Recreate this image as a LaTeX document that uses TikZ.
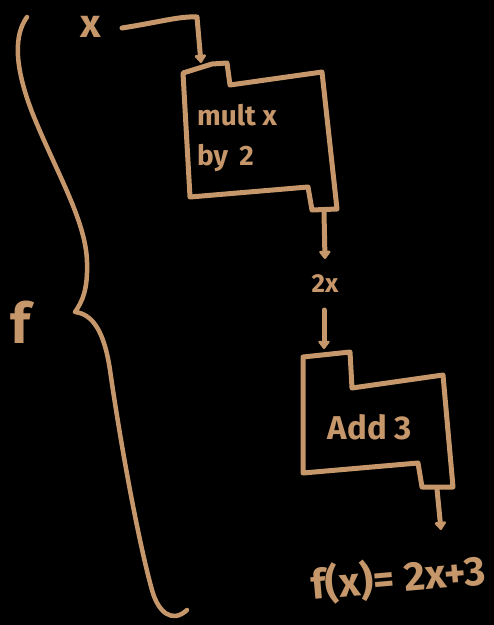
\documentclass[tikz,border=0pt]{standalone}
\usepackage{fontspec}
\setmainfont{Fira Sans}
\usetikzlibrary{arrows.meta}
\definecolor{tan}{RGB}{198,151,106}
\begin{document}
\begin{tikzpicture}[x=1pt,y=-1pt,
  ink/.style={draw=tan, line width=5pt, line cap=round, line join=round},
  lbl/.style={text=tan, inner sep=0pt},
  flow/.style={ink, -{Triangle[length=9pt,width=13pt,round]}}]
\fill[black] (0,0) rectangle (494,625);
\useasboundingbox (0,0) rectangle (494,625);

% brace
\draw[ink, line width=4.5pt] (27,17) .. controls (14,35) and (14,65) .. (32,112)
  .. controls (55,170) and (86,220) .. (87,262)
  .. controls (88,290) and (82,302) .. (75,312)
  .. controls (92,314) and (104,330) .. (110,370)
  .. controls (120,440) and (138,540) .. (152,590)
  .. controls (158,612) and (172,624) .. (187,610);
\node[lbl, font=\fontsize{56}{60}\selectfont\bfseries] (f) at (20,322) {f};

% input
\node[lbl, font=\fontsize{40}{44}\selectfont\bfseries] (x) at (91,27) {x};
\coordinate (xo) at (122,28);
\coordinate (b1in) at (201,63);

% box 1
\draw[ink] (183,73) -- (212,64) -- (227,63) -- (230,85) -- (322,72)
  -- (337,209) -- (312,210) -- (308,187) -- (190,197) -- cycle;
\node[lbl, font=\fontsize{28}{40}\selectfont\bfseries, align=left, anchor=north west] (t1) at (197,104) {mult x\\by\, 2};
\coordinate (b1out) at (324,212);

\draw[flow] (xo) .. controls (160,22) and (180,16) .. (197,17) -- (b1in);

% middle
\node[lbl, font=\fontsize{26}{28}\selectfont\bfseries] (mid) at (325,284) {2x};
\draw[flow] (b1out) -- (325,259);
\coordinate (b2in) at (324,349);
\draw[flow] (324,310) -- (b2in);

% box 2
\draw[ink] (303,357) -- (350,352) -- (352,388) -- (443,375) -- (453,487)
  -- (422,487) -- (418,463) -- (303,473) -- cycle;
\node[lbl, font=\fontsize{33}{36}\selectfont\bfseries] (t2) at (370,427) {Add 3};
\coordinate (b2out) at (437,489);
\coordinate (res) at (441,530);
\draw[flow] (b2out) -- (res);

% result
\node[lbl, font=\fontsize{41}{44}\selectfont\bfseries, rotate=5] (out) at (398,578) {f(x)= 2x+3};
\end{tikzpicture}
\end{document}
